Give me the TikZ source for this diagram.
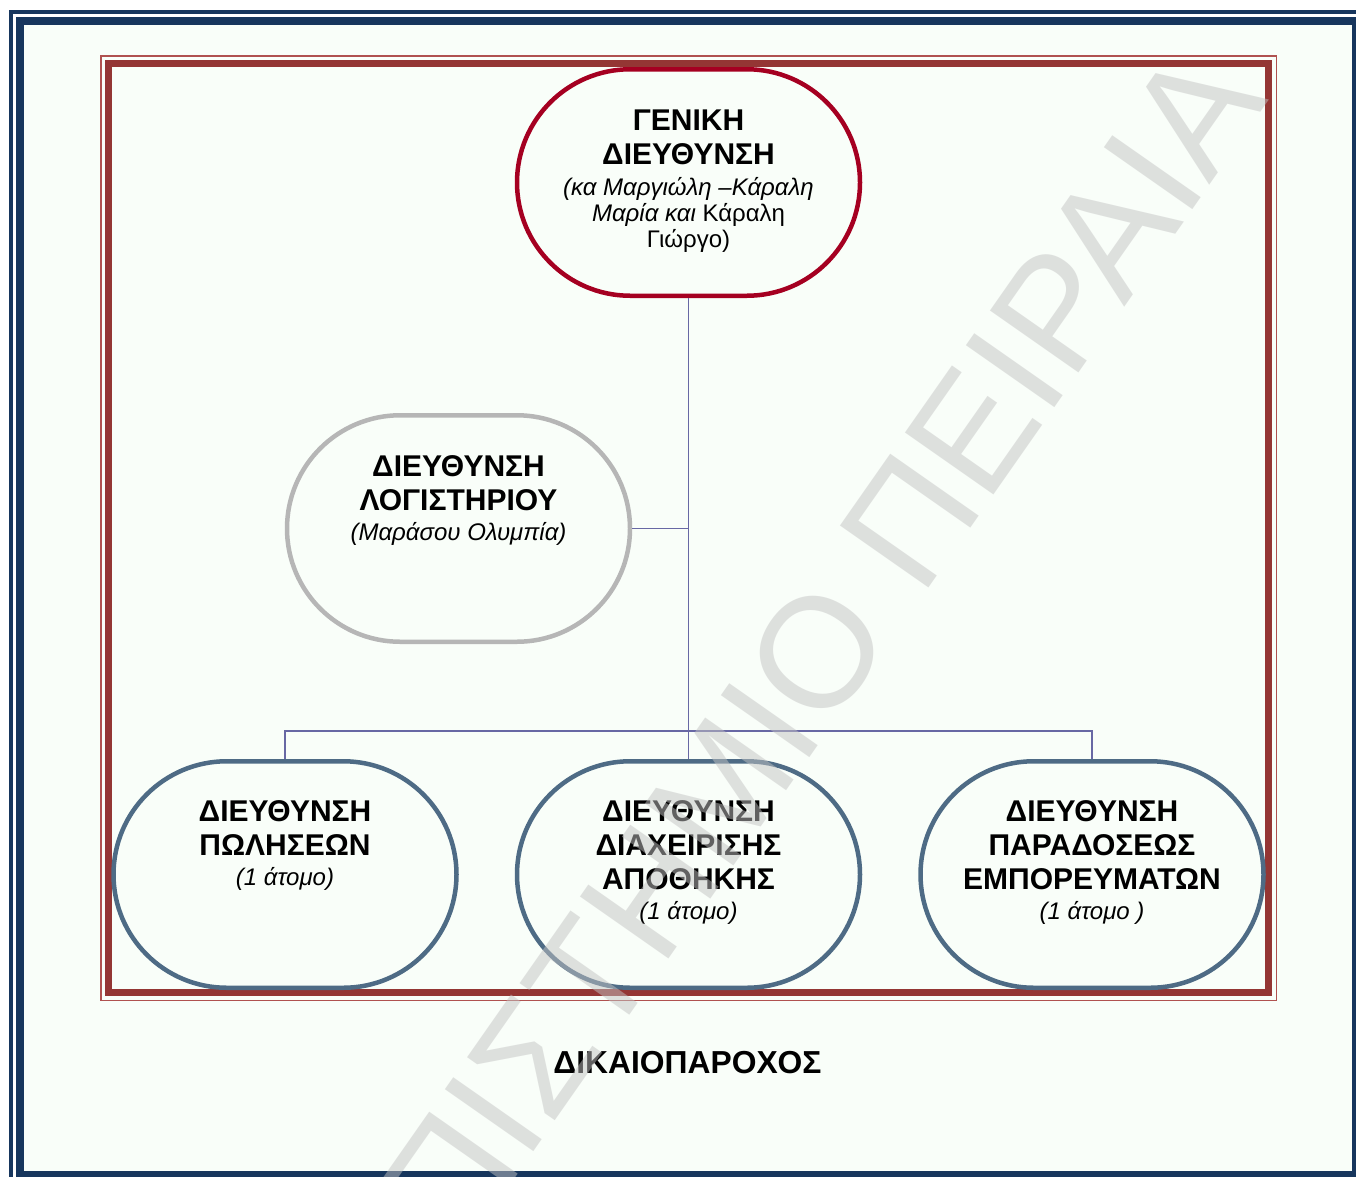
\documentclass[tikz,border=0pt]{standalone}
\usepackage{fontspec}
\setmainfont{Liberation Sans}
\definecolor{navy}{RGB}{23,54,93}
\definecolor{pagebg}{RGB}{249,254,249}
\definecolor{framered}{RGB}{148,54,52}
\definecolor{framethin}{RGB}{176,82,80}
\definecolor{headred}{RGB}{165,0,33}
\definecolor{acctgray}{RGB}{182,182,182}
\definecolor{unitblue}{RGB}{78,107,133}
\definecolor{linkblue}{RGB}{104,104,164}
\definecolor{wmgray}{RGB}{195,195,195}
\begin{document}
\begin{tikzpicture}[x=1pt,y=-1pt,
  unit/.style={draw, rectangle, rounded corners=113.25pt,
    minimum width=343pt, minimum height=226.5pt, line width=4.5pt, inner sep=0pt},
  label text/.style={anchor=north, align=center, inner sep=0pt,
    font=\fontsize{30}{34}\selectfont},
  conn/.style={draw=linkblue, line width=1.5pt}]
\useasboundingbox (0,0) rectangle (1356,1176);
\clip (0,0) rectangle (1356,1176);
\fill[white] (0,0) rectangle (1356,1176);

% page border: thin outer rule and thick inner rule
\fill[pagebg] (20,21) rectangle (1356,1175);
\draw[navy, line width=4pt] (11,12) rectangle (1363,1182);
\draw[navy, line width=8pt] (20,21) rectangle (1356,1175);

% frame around the chart
\draw[framethin, line width=1.5pt] (100.75,55.75) rectangle (1276.25,1000.25);
\draw[framered, line width=7pt] (108.5,63.5) rectangle (1268.5,992.5);

% units
\node[unit, draw=headred] (gm) at (688.5,182.5) {};
\node[unit, draw=acctgray] (acct) at (458.5,528.5) {};
\node[unit, draw=unitblue] (sales) at (285,874.5) {};
\node[unit, draw=unitblue] (store) at (688.5,874.5) {};
\node[unit, draw=unitblue] (deliv) at (1092,874.5) {};

% labels
\node[label text] (gmt) at (688.5,109.5)
  {\textbf{ΓΕΝΙΚΗ}\\\textbf{ΔΙΕΥΘΥΝΣΗ}\\[-3pt]
   {\fontsize{24}{26}\selectfont\itshape (κα Μαργιώλη –Κάραλη}\\[-8pt]
   {\fontsize{24}{26}\selectfont\textit{Μαρία και} Κάραλη}\\[-8pt]
   {\fontsize{24}{26}\selectfont Γιώργο)}};
\node[label text] (acctt) at (458.5,455)
  {\textbf{ΔΙΕΥΘΥΝΣΗ}\\\textbf{ΛΟΓΙΣΤΗΡΙΟΥ}\\[-3.5pt]
   {\fontsize{24}{26}\selectfont\itshape (Μαράσου Ολυμπία)}};
\node[label text] (salest) at (285,800)
  {\textbf{ΔΙΕΥΘΥΝΣΗ}\\\textbf{ΠΩΛΗΣΕΩΝ}\\[-3.5pt]
   {\fontsize{24}{26}\selectfont\itshape (1 άτομο)}};
\node[label text] (storet) at (688.5,800)
  {\textbf{ΔΙΕΥΘΥΝΣΗ}\\\textbf{ΔΙΑΧΕΙΡΙΣΗΣ}\\\textbf{ΑΠΟΘΗΚΗΣ}\\[-3.5pt]
   {\fontsize{24}{26}\selectfont\itshape (1 άτομο)}};
\node[label text] (delivt) at (1092,800)
  {\textbf{ΔΙΕΥΘΥΝΣΗ}\\\textbf{ΠΑΡΑΔΟΣΕΩΣ}\\\textbf{ΕΜΠΟΡΕΥΜΑΤΩΝ}\\[-3.5pt]
   {\fontsize{24}{26}\selectfont\itshape (1 άτομο )}};

% reporting lines
\coordinate (bus) at (688.5,731);
\path[conn] (gm.south) -- (store.north);
\path[conn] (sales.north) |- (bus) -| (deliv.north);
\path[conn] (acct.east) -- (acct.east -| gm.south);

% caption
\node[anchor=base, inner sep=0pt, font=\fontsize{31.8}{36}\selectfont\bfseries]
  (caption) at (687.5,1073) {ΔΙΚΑΙΟΠΑΡΟΧΟΣ};

% watermark
\node[rotate=55, anchor=base east, inner sep=0pt, text=wmgray, opacity=0.5,
  font=\fontsize{157}{160}\selectfont] (wm) at (1270,100)
  {ΠΑΝΕΠΙΣΤΗΜΙΟ ΠΕΙΡΑΙΑ};
\end{tikzpicture}
\end{document}
